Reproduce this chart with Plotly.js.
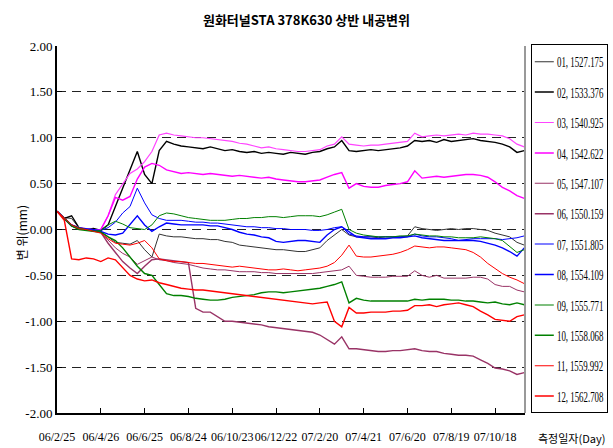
<!DOCTYPE html>
<html>
<head>
<meta charset="utf-8">
<script src="https://cdn.plot.ly/plotly-3.0.1.min.js"></script>
<style>
html,body{margin:0;padding:0;background:#fff;}
#chart{width:613px;height:448px;}
</style>
</head>
<body>
<div id="chart"></div>
<script>
const dates = [
"2006-02-25","2006-03-07","2006-03-17","2006-03-27","2006-04-06","2006-04-16","2006-04-26","2006-05-06","2006-05-16","2006-05-26",
"2006-06-05","2006-06-15","2006-06-25","2006-07-05","2006-07-15","2006-07-25","2006-08-04","2006-08-14","2006-08-24","2006-09-03",
"2006-09-13","2006-09-23","2006-10-03","2006-10-13","2006-10-23","2006-11-02","2006-11-12","2006-11-22","2006-12-02","2006-12-12",
"2006-12-22","2007-01-01","2007-01-11","2007-01-21","2007-01-31","2007-02-10","2007-02-20","2007-03-02","2007-03-12","2007-03-22",
"2007-04-01","2007-04-11","2007-04-21","2007-05-01","2007-05-11","2007-05-21","2007-05-31","2007-06-10","2007-06-20","2007-06-30",
"2007-07-10","2007-07-20","2007-07-30","2007-08-09","2007-08-19","2007-08-29","2007-09-08","2007-09-18","2007-09-28","2007-10-08",
"2007-10-18","2007-10-28","2007-11-07","2007-11-17","2007-11-27"];

const s01 = [0.20,0.13,0.12,0.02,0.00,0.00,-0.02,-0.08,-0.14,-0.15,
-0.16,-0.12,-0.22,-0.30,-0.05,-0.07,-0.08,-0.08,-0.09,-0.10,
-0.10,-0.11,-0.11,-0.13,-0.14,-0.17,-0.18,-0.19,-0.20,-0.21,
-0.22,-0.22,-0.23,-0.24,-0.24,-0.22,-0.20,-0.12,-0.06,0.00,
-0.06,-0.08,-0.08,-0.08,-0.09,-0.08,-0.08,-0.08,-0.07,0.03,
0.01,0.00,-0.01,0.00,0.01,0.00,0.01,0.01,0.00,-0.01,
-0.04,-0.06,-0.08,-0.14,-0.17];
const s02 = [0.20,0.12,0.15,0.02,0.00,0.01,-0.01,0.05,0.25,0.45,
0.65,0.85,0.60,0.50,0.86,0.96,0.93,0.91,0.90,0.89,
0.88,0.90,0.88,0.86,0.87,0.85,0.84,0.85,0.83,0.84,
0.83,0.82,0.84,0.83,0.82,0.84,0.85,0.88,0.90,0.97,
0.86,0.85,0.86,0.87,0.86,0.87,0.88,0.89,0.91,0.97,
0.96,0.97,0.95,0.98,0.96,0.97,0.98,0.99,0.97,0.96,
0.95,0.93,0.90,0.84,0.86];
const s03 = [0.20,0.13,0.05,0.02,0.01,0.00,0.00,0.15,0.38,0.50,
0.61,0.66,0.74,0.85,1.03,1.05,1.03,1.02,1.01,1.00,
1.00,0.99,0.98,0.97,0.96,0.94,0.93,0.91,0.89,0.90,
0.88,0.87,0.86,0.85,0.85,0.86,0.87,0.91,0.93,1.01,
0.93,0.92,0.91,0.92,0.92,0.93,0.94,0.95,0.96,1.05,
1.01,1.02,1.03,1.02,1.03,1.04,1.03,1.05,1.04,1.04,
1.03,1.02,0.99,0.93,0.90];
const s04 = [0.20,0.12,0.05,0.02,0.00,-0.01,0.00,0.15,0.35,0.32,
0.36,0.55,0.68,0.72,0.70,0.65,0.63,0.61,0.62,0.61,
0.60,0.61,0.60,0.59,0.58,0.59,0.58,0.57,0.56,0.57,
0.55,0.54,0.53,0.52,0.52,0.53,0.54,0.57,0.60,0.62,
0.45,0.50,0.47,0.46,0.46,0.48,0.49,0.50,0.52,0.64,
0.56,0.57,0.58,0.57,0.58,0.59,0.60,0.60,0.59,0.57,
0.52,0.46,0.42,0.37,0.34];
const s05 = [0.20,0.12,0.04,0.01,0.00,-0.01,-0.03,-0.12,-0.20,-0.26,
-0.30,-0.38,-0.34,-0.30,-0.33,-0.34,-0.36,-0.37,-0.38,-0.40,
-0.42,-0.43,-0.44,-0.44,-0.45,-0.46,-0.46,-0.46,-0.47,-0.47,
-0.48,-0.48,-0.48,-0.48,-0.48,-0.48,-0.47,-0.46,-0.45,-0.44,
-0.40,-0.50,-0.51,-0.52,-0.52,-0.52,-0.51,-0.51,-0.51,-0.45,
-0.50,-0.52,-0.50,-0.53,-0.53,-0.53,-0.53,-0.52,-0.52,-0.54,
-0.60,-0.62,-0.62,-0.66,-0.68];
const s06 = [0.20,0.12,0.04,0.01,0.00,-0.01,-0.03,-0.15,-0.25,-0.35,
-0.42,-0.48,-0.40,-0.33,-0.32,-0.33,-0.34,-0.35,-0.36,-0.86,
-0.90,-0.90,-0.95,-1.00,-1.00,-1.01,-1.02,-1.03,-1.04,-1.06,
-1.07,-1.08,-1.09,-1.10,-1.11,-1.12,-1.15,-1.20,-1.25,-1.17,
-1.30,-1.30,-1.31,-1.32,-1.33,-1.33,-1.32,-1.32,-1.31,-1.30,
-1.32,-1.33,-1.33,-1.35,-1.36,-1.37,-1.37,-1.38,-1.42,-1.46,
-1.51,-1.52,-1.54,-1.58,-1.56];
const s07 = [0.20,0.12,0.05,0.02,0.01,0.00,-0.01,0.02,0.08,0.18,
0.25,0.45,0.29,0.16,0.12,0.10,0.10,0.10,0.09,0.08,
0.08,0.07,0.07,0.06,0.05,0.04,0.03,0.03,0.02,0.02,
0.01,0.01,0.00,0.00,0.00,-0.01,-0.01,0.00,0.02,0.03,
-0.05,-0.07,-0.08,-0.08,-0.08,-0.08,-0.08,-0.08,-0.08,-0.05,
-0.07,-0.08,-0.08,-0.09,-0.10,-0.12,-0.11,-0.10,-0.10,-0.10,
-0.10,-0.11,-0.10,-0.09,-0.07];
const s08 = [0.20,0.12,0.04,0.01,0.00,-0.01,-0.02,-0.05,-0.06,-0.04,
0.05,0.15,0.05,-0.02,0.03,0.07,0.06,0.05,0.05,0.05,
0.05,0.04,0.04,0.02,0.00,-0.03,-0.05,-0.06,-0.08,-0.09,
-0.13,-0.14,-0.13,-0.12,-0.12,-0.13,-0.14,-0.06,0.00,0.03,
-0.03,-0.08,-0.09,-0.10,-0.10,-0.10,-0.09,-0.09,-0.08,-0.07,
-0.09,-0.10,-0.11,-0.12,-0.12,-0.12,-0.12,-0.12,-0.13,-0.15,
-0.17,-0.20,-0.24,-0.29,-0.20];
const s09 = [0.20,0.12,0.05,0.02,0.00,-0.02,-0.01,0.05,0.09,0.06,
0.02,0.01,0.00,0.05,0.15,0.18,0.17,0.15,0.13,0.12,
0.11,0.10,0.10,0.10,0.11,0.12,0.12,0.13,0.13,0.14,
0.14,0.13,0.14,0.15,0.15,0.15,0.14,0.16,0.19,0.22,
0.00,-0.04,-0.06,-0.07,-0.08,-0.08,-0.08,-0.07,-0.07,-0.05,
-0.06,-0.07,-0.07,-0.08,-0.08,-0.09,-0.09,-0.09,-0.08,-0.09,
-0.10,-0.12,-0.18,-0.25,-0.22];
const s10 = [0.20,0.12,0.04,0.00,-0.01,-0.02,-0.03,-0.08,-0.12,-0.20,
-0.30,-0.40,-0.48,-0.50,-0.60,-0.70,-0.72,-0.72,-0.73,-0.75,
-0.76,-0.77,-0.77,-0.76,-0.74,-0.73,-0.72,-0.71,-0.69,-0.68,
-0.68,-0.69,-0.68,-0.67,-0.66,-0.65,-0.64,-0.62,-0.60,-0.57,
-0.80,-0.75,-0.77,-0.78,-0.78,-0.78,-0.78,-0.78,-0.78,-0.76,
-0.77,-0.76,-0.76,-0.76,-0.77,-0.77,-0.78,-0.78,-0.79,-0.80,
-0.79,-0.81,-0.82,-0.80,-0.82];
const s11 = [0.20,0.12,0.05,0.01,0.00,-0.02,-0.04,-0.10,-0.15,-0.16,
-0.17,-0.15,-0.12,-0.20,-0.32,-0.34,-0.35,-0.35,-0.36,-0.37,
-0.37,-0.38,-0.39,-0.40,-0.41,-0.40,-0.41,-0.42,-0.43,-0.44,
-0.44,-0.43,-0.44,-0.45,-0.44,-0.43,-0.42,-0.40,-0.36,-0.28,
-0.17,-0.29,-0.30,-0.30,-0.29,-0.28,-0.27,-0.25,-0.22,-0.18,
-0.19,-0.20,-0.19,-0.19,-0.20,-0.21,-0.22,-0.25,-0.30,-0.37,
-0.43,-0.48,-0.52,-0.55,-0.59];
const s12 = [0.20,0.10,-0.32,-0.33,-0.31,-0.32,-0.35,-0.31,-0.33,-0.42,
-0.50,-0.54,-0.56,-0.55,-0.58,-0.60,-0.62,-0.64,-0.65,-0.66,
-0.66,-0.67,-0.68,-0.69,-0.70,-0.71,-0.72,-0.73,-0.74,-0.75,
-0.76,-0.77,-0.78,-0.79,-0.80,-0.81,-0.80,-0.79,-1.00,-1.06,
-0.85,-0.91,-0.91,-0.90,-0.90,-0.90,-0.89,-0.89,-0.88,-0.83,
-0.83,-0.82,-0.84,-0.82,-0.81,-0.80,-0.82,-0.84,-0.89,-0.93,
-0.98,-0.99,-1.00,-0.95,-0.93];

const seriesNames = ["01, 1527.175","02, 1533.376","03, 1540.925","04, 1542.622","05, 1547.107","06, 1550.159",
                     "07, 1551.805","08, 1554.109","09, 1555.771","10, 1558.068","11, 1559.992","12, 1562.708"];
const seriesValues = [s01,s02,s03,s04,s05,s06,s07,s08,s09,s10,s11,s12];
const seriesColors = ["#333333","#000000","#ff44ff","#ff00ff","#993366","#993366",
                      "#0000ff","#0000ff","#008000","#008000","#ff0000","#ff0000"];
const seriesWidths = [1,1.4,1.2,1.4,1,1.4,1,1.4,1,1.4,1,1.4];

const xTickVals = ["2006-02-25","2006-04-26","2006-06-25","2006-08-24","2006-10-23","2006-12-22",
                   "2007-02-20","2007-04-21","2007-06-20","2007-08-19","2007-10-18"];
const xTickText = ["06/2/25","06/4/26","06/6/25","06/8/24","06/10/23","06/12/22",
                   "07/2/20","07/4/21","07/6/20","07/8/19","07/10/18"];
const yTickVals = [2,1.5,1,0.5,0,-0.5,-1,-1.5,-2];
const yTickText = ["2.00","1.50","1.00","0.50","0.00","-0.50","-1.00","-1.50","-2.00"];

const FONT = "'Liberation Serif', 'Noto Sans CJK KR', serif";
const KFONT = "'Noto Sans CJK KR', sans-serif";

const traces = seriesValues.map((vals, i) => ({
  type: 'scatter', mode: 'lines',
  x: dates, y: vals,
  name: seriesNames[i],
  legendgroup: 'g' + i,
  line: {color: seriesColors[i], width: seriesWidths[i]}
}));

const layout = {
  width: 613, height: 448,
  margin: {l: 57, r: 88, t: 46, b: 35, autoexpand: false},
  paper_bgcolor: '#fff', plot_bgcolor: '#fff',
  font: {family: FONT, size: 13, color: '#000'},
  title: {text: '원화터널STA 378K630 상반 내공변위', x: 0.5, xanchor: 'center', y: 0.965,
          font: {family: KFONT, size: 13, weight: 'bold', color: '#000'}},
  xaxis: {
    type: 'date', range: ['2006-02-25', '2007-11-28'],
    tickmode: 'array', tickvals: xTickVals, ticktext: xTickText, tickangle: 0,
    ticks: 'inside', ticklen: 5, tickcolor: '#000', tickwidth: 1,
    showline: true, linecolor: '#000', linewidth: 2,
    showgrid: false, zeroline: false,
    ticklabelstandoff: 12,
    tickfont: {family: FONT, size: 12}
  },
  yaxis: {
    range: [-2, 2],
    tickmode: 'array', tickvals: yTickVals, ticktext: yTickText,
    ticks: 'inside', ticklen: 5, tickcolor: '#000', tickwidth: 1,
    showline: true, linecolor: '#000', linewidth: 2,
    showgrid: true, gridcolor: '#222', gridwidth: 1, griddash: '9px,6px',
    zeroline: false,
    tickfont: {family: FONT, size: 13}
  },
  showlegend: true,
  legend: {
    x: 0.02, xanchor: 'left', y: 0.99, yanchor: 'top',
    bordercolor: '#000', borderwidth: 1, bgcolor: '#fff',
    font: {family: FONT, size: 14},
    tracegroupgap: 8, itemwidth: 30, maxheight: 1000
  },
  shapes: [{type: 'line', xref: 'paper', yref: 'paper', x0: 1, x1: 1, y0: 0, y1: 1,
            line: {color: '#999', width: 2}}],
  annotations: [
    {text: '측정일자(Day)', xref: 'paper', yref: 'paper', x: 1.1, y: 0, yshift: -25,
     xanchor: 'center', yanchor: 'middle', showarrow: false,
     font: {family: KFONT, size: 11}},
    {text: '변 위(mm)', xref: 'paper', yref: 'paper', x: 0, xshift: -36, y: 0.49,
     xanchor: 'center', yanchor: 'middle', textangle: -90, showarrow: false,
     font: {family: KFONT, size: 12}}
  ]
};

function parseTY(el) {
  const t = el.getAttribute('transform') || '';
  const m = t.match(/translate\(\s*([-\d.e]+)[ ,]+([-\d.e]+)/);
  return m ? parseFloat(m[2]) : 0;
}

Plotly.newPlot('chart', traces, layout, {staticPlot: true, displayModeBar: false}).then(gd => {
  const leg = gd.querySelector('.legend');
  if (!leg) return;
  const bg = leg.querySelector('rect.bg');
  const w = parseFloat(bg.getAttribute('width'));
  bg.setAttribute('vector-effect', 'non-scaling-stroke');
  const items = Array.from(leg.querySelectorAll('g.traces'));
  const ys = items.map(it => {
    let y = parseTY(it);
    const grp = it.parentNode;
    if (grp && grp.classList && grp.classList.contains('groups')) y += parseTY(grp);
    return y;
  });
  let sy = 1, first = ys.length ? ys[0] : 0;
  if (ys.length > 1) {
    const spacing = (ys[ys.length - 1] - ys[0]) / (ys.length - 1);
    if (spacing > 0) sy = 30.4 / spacing;
  }
  const sx = 76 / w;
  const ty = 61.7 - first * sy;
  leg.setAttribute('transform', 'translate(531,' + ty + ') scale(' + sx + ',' + sy + ')');
  bg.setAttribute('height', (412 - ty) / sy);
});
</script>
</body>
</html>
